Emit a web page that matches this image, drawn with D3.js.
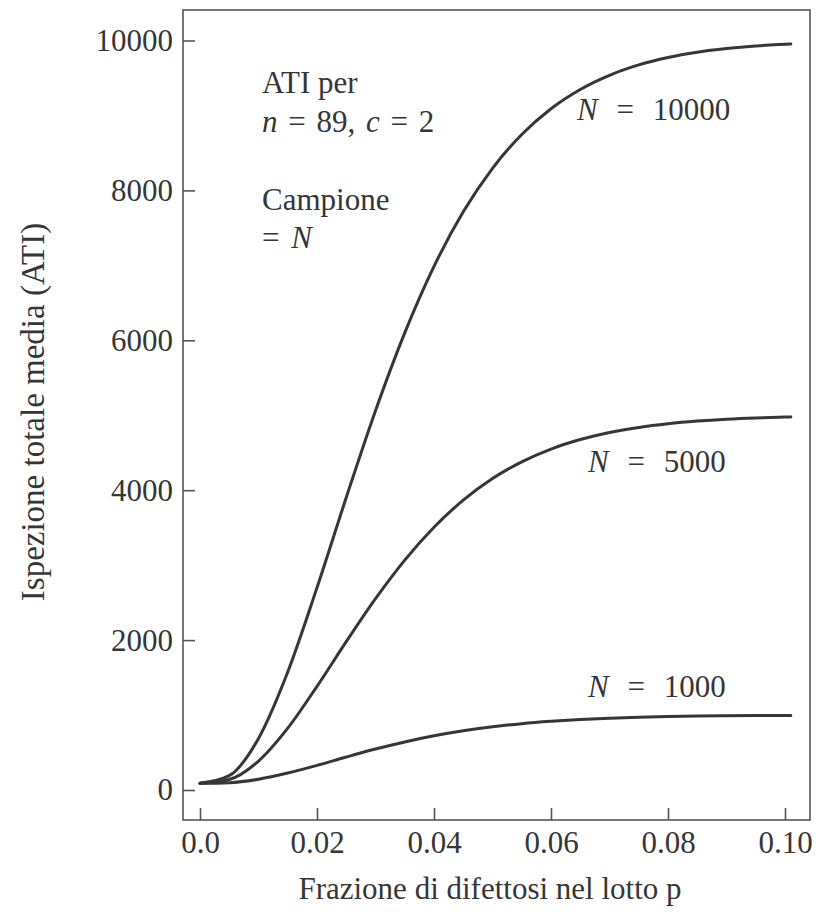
<!DOCTYPE html>
<html>
<head>
<meta charset="utf-8">
<script src="https://cdn.jsdelivr.net/npm/d3@7/dist/d3.min.js"></script>
<style>
  html, body { margin: 0; padding: 0; background: #ffffff; }
  svg { display: block; }
  text { font-family: "Liberation Serif", "DejaVu Serif", serif; fill: #363636; }
</style>
</head>
<body>
<svg id="chart" width="822" height="912"></svg>
<script>
// ---- data ----
const pValues = [0, 0.005, 0.01, 0.015, 0.02, 0.025, 0.03, 0.035, 0.04, 0.045, 0.05,
                 0.055, 0.06, 0.065, 0.07, 0.075, 0.08, 0.085, 0.09, 0.095, 0.10, 0.101];
const atiN1000  = [89, 98, 144, 226, 329, 440, 546, 641, 723, 790, 843,
                   885, 916, 940, 957, 970, 979, 986, 990, 993, 995, 995];
const atiN5000  = [89, 140, 386, 825, 1383, 1979, 2552, 3067, 3506, 3867, 4155,
                   4379, 4549, 4676, 4770, 4838, 4887, 4922, 4947, 4964, 4975, 4977];
const atiN10000 = [89, 191, 688, 1574, 2700, 3902, 5060, 6099, 6986, 7714, 8295,
                   8746, 9090, 9347, 9536, 9674, 9773, 9843, 9892, 9927, 9950, 9953];
const seriesNames = ["N = 1000", "N = 5000", "N = 10000"];
const xTicks = [0, 0.02, 0.04, 0.06, 0.08, 0.10];
const xTickLabels = ["0.0", "0.02", "0.04", "0.06", "0.08", "0.10"];
const yTicks = [0, 2000, 4000, 6000, 8000, 10000];
const xTitle = "Frazione di difettosi nel lotto p";
const yTitle = "Ispezione totale media (ATI)";

// ---- layout ----
const svg = d3.select("#chart");
const frame = { left: 183, right: 810, top: 10, bottom: 820 };
const x = d3.scaleLinear().domain([0, 0.1]).range([200, 785]);
const y = d3.scaleLinear().domain([0, 10000]).range([790, 40.5]);
const ink = "#363636";
const fontSize = 31;

// frame
svg.append("rect")
  .attr("x", frame.left).attr("y", frame.top)
  .attr("width", frame.right - frame.left).attr("height", frame.bottom - frame.top)
  .attr("fill", "none").attr("stroke", "#555").attr("stroke-width", 1.6);

// y axis
const yAxis = svg.append("g")
  .attr("transform", `translate(${frame.left},0)`)
  .call(d3.axisLeft(y).tickValues(yTicks).tickFormat(d3.format("d"))
        .tickSizeInner(-12).tickSizeOuter(0).tickPadding(10));
yAxis.select(".domain").remove();
yAxis.selectAll("line").attr("stroke", "#555").attr("stroke-width", 1.6);
yAxis.selectAll("text").attr("font-size", fontSize).attr("fill", ink)
  .style("font-family", "'Liberation Serif', serif");

// x axis
const xAxis = svg.append("g")
  .attr("transform", `translate(0,${frame.bottom})`)
  .call(d3.axisBottom(x).tickValues(xTicks).tickFormat((d, i) => xTickLabels[i])
        .tickSizeInner(-12).tickSizeOuter(0).tickPadding(11));
xAxis.select(".domain").remove();
xAxis.selectAll("line").attr("stroke", "#555").attr("stroke-width", 1.6);
xAxis.selectAll("text").attr("font-size", fontSize).attr("fill", ink)
  .style("font-family", "'Liberation Serif', serif");

// curves
const line = d3.line()
  .x((d, i) => x(pValues[i]))
  .y(d => y(d))
  .curve(d3.curveMonotoneX);
[atiN1000, atiN5000, atiN10000].forEach(vals => {
  svg.append("path")
    .attr("d", line(vals))
    .attr("fill", "none")
    .attr("stroke", "#363636")
    .attr("stroke-width", 3)
    .attr("stroke-linecap", "round");
});

// series labels
const labelPos = [
  { x: 588, y: 697 },
  { x: 588, y: 472 },
  { x: 577, y: 120 }
];
seriesNames.forEach((name, i) => {
  const t = svg.append("text")
    .attr("x", labelPos[i].x).attr("y", labelPos[i].y)
    .attr("font-size", fontSize).style("word-spacing", "11px");
  const parts = name.split(" = ");
  t.append("tspan").attr("font-style", "italic").text(parts[0]);
  t.append("tspan").text(" = " + parts[1]);
});

// annotation block
const ann = svg.append("g").attr("font-size", fontSize);
ann.append("text").attr("x", 262).attr("y", 93).text("ATI per");
const l2 = ann.append("text").attr("x", 262).attr("y", 132).style("word-spacing", "3px");
l2.append("tspan").attr("font-style", "italic").text("n");
l2.append("tspan").text(" = 89, ");
l2.append("tspan").attr("font-style", "italic").text("c");
l2.append("tspan").text(" = 2");
ann.append("text").attr("x", 262).attr("y", 210).text("Campione");
const l4 = ann.append("text").attr("x", 262).attr("y", 248).style("word-spacing", "4px");
l4.append("tspan").text("= ");
l4.append("tspan").attr("font-style", "italic").text("N");

// axis titles
svg.append("text")
  .attr("x", 490).attr("y", 899)
  .attr("text-anchor", "middle")
  .attr("font-size", fontSize)
  .text(xTitle);

svg.append("text")
  .attr("transform", "translate(44,412) rotate(-90)")
  .attr("text-anchor", "middle")
  .attr("font-size", 33)
  .text(yTitle);
</script>
</body>
</html>
